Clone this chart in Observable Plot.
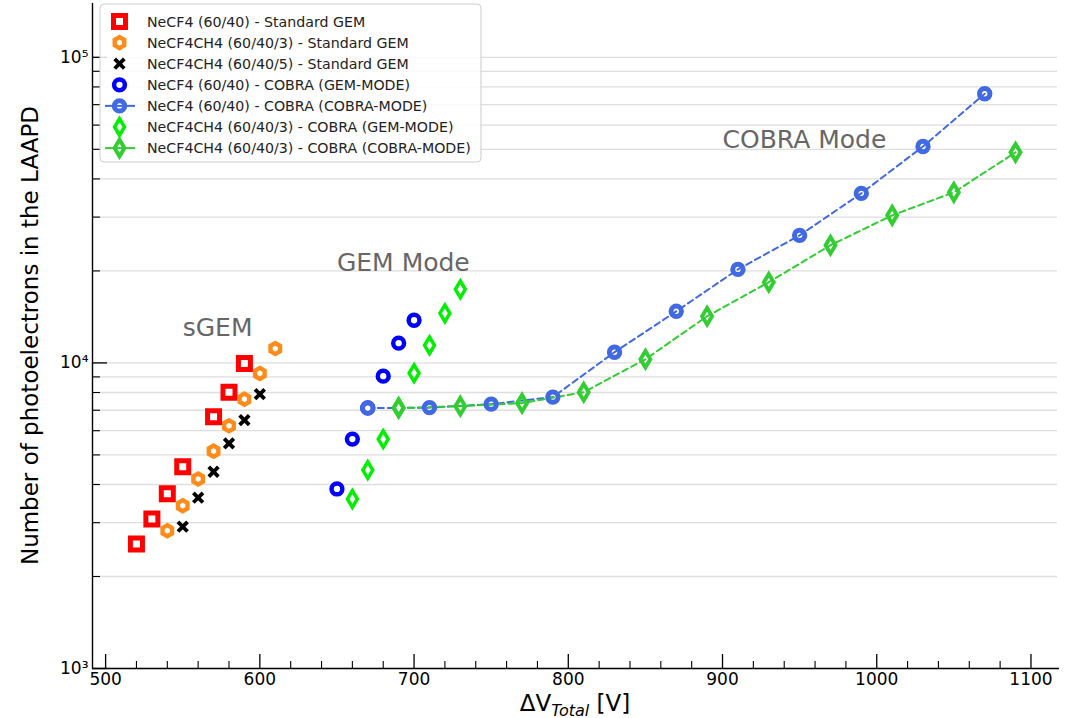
<!DOCTYPE html>
<html>
<head>
<meta charset="utf-8">
<script src="https://cdn.jsdelivr.net/npm/d3@7"></script>
<script src="https://cdn.jsdelivr.net/npm/@observablehq/plot@0.6"></script>
<style>
  html, body { margin: 0; padding: 0; background: #fff; }
  #chart { width: 1071px; height: 718px; }
</style>
</head>
<body>
<div id="chart"></div>
<script>
// Standard GEM, NeCF4 (60/40)
const sgemNeCF4_V = [520, 530, 540, 550, 570, 580, 590];
const sgemNeCF4_N = [2556, 3085, 3731, 4573, 6660, 8022, 9955];
// Standard GEM, NeCF4CH4 (60/40/3)
const sgemCH4a_V = [540, 550, 560, 570, 580, 590, 600, 610];
const sgemCH4a_N = [2825, 3410, 4169, 5145, 6225, 7610, 9235, 11140];
// Standard GEM, NeCF4CH4 (60/40/5)
const sgemCH4b_V = [550, 560, 570, 580, 590, 600];
const sgemCH4b_N = [2911, 3622, 4404, 5452, 6496, 7902];
// COBRA in GEM mode, NeCF4 (60/40)
const cobraGemNeCF4_V = [650, 660, 670, 680, 690, 700];
const cobraGemNeCF4_N = [3868, 5632, 7130, 9047, 11600, 13790];
// COBRA in COBRA mode, NeCF4 (60/40)
const cobraNeCF4_V = [670, 710, 750, 790, 830, 870, 910, 950, 990, 1030, 1070];
const cobraNeCF4_N = [7110, 7140, 7330, 7730, 10840, 14750, 20230, 26150, 35880, 51070, 76000];
// COBRA in GEM mode, NeCF4CH4 (60/40/3)
const cobraGemCH4_V = [660, 670, 680, 690, 700, 710, 720, 730];
const cobraGemCH4_N = [3586, 4460, 5632, 7166, 9254, 11420, 14530, 17410];
// COBRA in COBRA mode, NeCF4CH4 (60/40/3)
const cobraCH4_V = [690, 730, 770, 810, 850, 890, 930, 970, 1010, 1050, 1090];
const cobraCH4_N = [7110, 7220, 7385, 8020, 10280, 14210, 18370, 24270, 30400, 36150, 48870];

const legendLabels = [
  "NeCF4 (60/40) - Standard GEM",
  "NeCF4CH4 (60/40/3) - Standard GEM",
  "NeCF4CH4 (60/40/5) - Standard GEM",
  "NeCF4 (60/40) - COBRA (GEM-MODE)",
  "NeCF4 (60/40) - COBRA (COBRA-MODE)",
  "NeCF4CH4 (60/40/3) - COBRA (GEM-MODE)",
  "NeCF4CH4 (60/40/3) - COBRA (COBRA-MODE)"
];

const regionLabels = ["sGEM", "GEM Mode", "COBRA Mode"];
const regionV = [550, 650, 900];
const regionN = [13000, 21300, 53800];

const xTicks = [500, 600, 700, 800, 900, 1000, 1100];
const yTicks = [1e3, 1e4, 1e5];

// ---- marker shapes (radius derived from the symbol size Plot passes in) ----
const rad = s => Math.sqrt(s / Math.PI);
const symSquare = { draw(c, s) { const r = rad(s); c.rect(-r, -r, 2 * r, 2 * r); } };
const symHex = { draw(c, s) { const r = rad(s);
  for (let i = 0; i < 6; i++) { const a = -Math.PI / 2 + i * Math.PI / 3;
    const px = r * Math.cos(a), py = r * Math.sin(a);
    i ? c.lineTo(px, py) : c.moveTo(px, py); }
  c.closePath(); } };
const symCross = { draw(c, s) { const r = rad(s);
  c.moveTo(-r, -r); c.lineTo(r, r); c.moveTo(r, -r); c.lineTo(-r, r); } };
const symCircle = { draw(c, s) { const r = rad(s); c.moveTo(r, 0); c.arc(0, 0, r, 0, 2 * Math.PI); } };
const symDiamond = { draw(c, s) { const r = rad(s);
  c.moveTo(0, -1.25 * r); c.lineTo(0.75 * r, 0); c.lineTo(0, 1.25 * r); c.lineTo(-0.75 * r, 0); c.closePath(); } };

const series = [
  { V: sgemNeCF4_V, N: sgemNeCF4_N, sym: symSquare, color: "#ff0000", r: 6.0, sw: 5.0, fill: "white" },
  { V: sgemCH4a_V, N: sgemCH4a_N, sym: symHex, color: "#ff8c1a", r: 5.5, sw: 4.4, fill: "white" },
  { V: sgemCH4b_V, N: sgemCH4b_N, sym: symCross, color: "#000000", r: 4.8, sw: 3.8, fill: "none" },
  { V: cobraGemNeCF4_V, N: cobraGemNeCF4_N, sym: symCircle, color: "#0000ff", r: 5.4, sw: 4.5, fill: "white" },
  { V: cobraNeCF4_V, N: cobraNeCF4_N, sym: symCircle, color: "#4169e1", r: 5.2, sw: 5.0, fill: "none", line: true },
  { V: cobraGemCH4_V, N: cobraGemCH4_N, sym: symDiamond, color: "#00ee00", r: 6.6, sw: 3.5, fill: "white" },
  { V: cobraCH4_V, N: cobraCH4_N, sym: symDiamond, color: "#32cd32", r: 6.6, sw: 3.9, fill: "none", line: true }
];

const W = 1071, H = 718;
const mL = 92, mR = 12, mT = 3, mB = 50;
const innerW = W - mL - mR, innerH = H - mT - mB;
const xDomain = [491.5, 1118.5];
const yDomain = [1000, 150000];

const xMinor = d3.range(500, 1101, 20).filter(v => v % 100 !== 0);
const yAll = [];
for (let e = 3; e <= 5; e++) for (let m = 1; m <= 9; m++) { const v = m * 10 ** e; if (v <= yDomain[1]) yAll.push(v); }
const yMinor = yAll.filter(v => !yTicks.includes(v));

const pts = s => s.V.map((v, i) => ({ v, n: s.N[i] }));
const supers = { 3: "³", 4: "⁴", 5: "⁵" };

const marks = [
  // horizontal grid at every decade and sub-decade value
  Plot.ruleY(yAll, { stroke: "#dedede", strokeWidth: 1.3, insetRight: 2 }),
  // dashed connecting lines for the COBRA-mode series
  ...series.filter(s => s.line).map(s =>
    Plot.line(pts(s), { x: "v", y: "n", stroke: s.color, strokeWidth: 2, strokeDasharray: "6,4" })),
  // markers
  ...series.map(s =>
    Plot.dot(pts(s), { x: "v", y: "n", symbol: s.sym, r: s.r, stroke: s.color, strokeWidth: s.sw, fill: s.fill })),
  // region annotations
  Plot.text(regionLabels.map((t, i) => ({ t, v: regionV[i], n: regionN[i] })),
    { x: "v", y: "n", text: "t", textAnchor: "start", fontSize: 25, fill: "#666666" }),
  // inward tick marks
  Plot.ruleX(xTicks, { stroke: "black", strokeWidth: 1.3, insetTop: innerH - 14 }),
  Plot.ruleX(xMinor, { stroke: "black", strokeWidth: 1.1, insetTop: innerH - 7 }),
  Plot.ruleY(yTicks, { stroke: "black", strokeWidth: 1.3, insetRight: innerW - 15 }),
  Plot.ruleY(yMinor, { stroke: "black", strokeWidth: 1.1, insetRight: innerW - 8 }),
  // spines
  Plot.ruleX([xDomain[0]], { stroke: "black", strokeWidth: 1.4 }),
  Plot.ruleY([yDomain[0]], { stroke: "black", strokeWidth: 1.4 }),
  Plot.axisX({ ticks: xTicks, tickSize: 0, tickPadding: 4, label: null, fontSize: 17,
    tickFormat: d => String(d) }),
  Plot.axisY({ ticks: yTicks, tickSize: 0, tickPadding: 4, label: null, fontSize: 17,
    tickFormat: d => "10" + supers[Math.round(Math.log10(d))] })
];

const chart = Plot.plot({
  width: W, height: H,
  marginLeft: mL, marginRight: mR, marginTop: mT, marginBottom: mB,
  x: { domain: xDomain },
  y: { type: "log", domain: yDomain },
  style: { fontFamily: "DejaVu Sans, sans-serif", background: "white", color: "black", overflow: "visible" },
  marks
});

const svg = d3.select(chart);

// axis titles
svg.append("text")
  .attr("transform", `translate(38,${mT + innerH / 2}) rotate(-90)`)
  .attr("text-anchor", "middle")
  .attr("font-family", "DejaVu Sans, sans-serif")
  .attr("font-size", 23)
  .attr("fill", "black")
  .text("Number of photoelectrons in the LAAPD");

const xl = svg.append("text")
  .attr("x", 575).attr("y", 711)
  .attr("text-anchor", "middle")
  .attr("font-family", "DejaVu Sans, sans-serif")
  .attr("font-size", 23)
  .attr("fill", "black");
xl.append("tspan").text("ΔV");
xl.append("tspan").attr("font-size", 16).attr("font-style", "italic").attr("dy", 5).text("Total");
xl.append("tspan").attr("dy", -5).text(" [V]");

// legend box in the upper-left corner of the axes
const lg = svg.append("g")
  .attr("font-family", "DejaVu Sans, sans-serif")
  .attr("text-anchor", "start");
lg.append("rect")
  .attr("x", 100).attr("y", 4).attr("width", 381).attr("height", 158).attr("rx", 4)
  .attr("fill", "white").attr("fill-opacity", 0.85)
  .attr("stroke", "#cccccc").attr("stroke-width", 1);
series.forEach((s, i) => {
  const cy = 21.5 + i * 21.1;
  if (s.line) {
    lg.append("line").attr("x1", 105).attr("x2", 135).attr("y1", cy).attr("y2", cy)
      .attr("stroke", s.color).attr("stroke-width", 2);
  }
  lg.append("path")
    .attr("transform", `translate(119.5,${cy})`)
    .attr("d", d3.symbol(s.sym, Math.PI * s.r * s.r)())
    .attr("fill", s.fill).attr("stroke", s.color).attr("stroke-width", s.sw);
  lg.append("text")
    .attr("x", 147).attr("y", cy).attr("dy", "0.36em")
    .attr("text-anchor", "start")
    .attr("font-size", 14.2).attr("fill", "#222")
    .text(legendLabels[i]);
});

document.getElementById("chart").appendChild(chart);
</script>
</body>
</html>
